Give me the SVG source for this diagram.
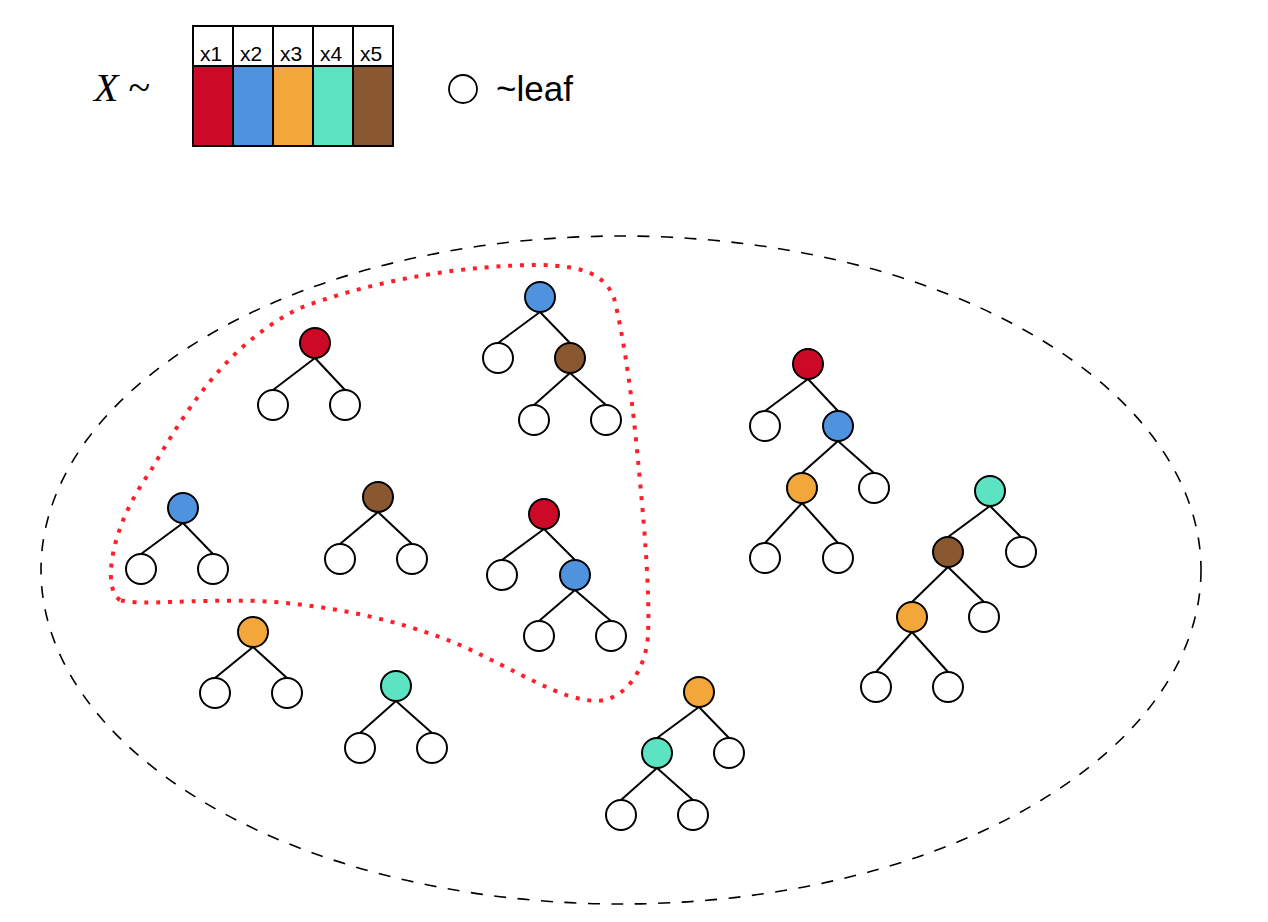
<svg xmlns="http://www.w3.org/2000/svg" width="1268" height="922" viewBox="0 0 1268 922">
<style>
.n{stroke:#000;stroke-width:2}
.leaf{fill:#fff}
.x1{fill:#CC0A27}.x2{fill:#4F92DE}.x3{fill:#F3A63A}.x4{fill:#5BE3C2}.x5{fill:#8A5830}
.e{stroke:#000;stroke-width:2;fill:none}
.hdr{font-family:"Liberation Sans",Arial,sans-serif;font-size:21px;text-anchor:middle;fill:#000}
</style>
<rect width="1268" height="922" fill="#fff"/>
<g id="legend">
  <rect x="193" y="66" width="40" height="80" class="x1"/>
  <rect x="233" y="66" width="40" height="80" class="x2"/>
  <rect x="273" y="66" width="40" height="80" class="x3"/>
  <rect x="313" y="66" width="40" height="80" class="x4"/>
  <rect x="353" y="66" width="40" height="80" class="x5"/>
  <g stroke="#000" stroke-width="2" fill="none">
    <rect x="193" y="26" width="200" height="120"/>
    <line x1="193" y1="66" x2="393" y2="66"/>
    <line x1="233" y1="26" x2="233" y2="146"/>
    <line x1="273" y1="26" x2="273" y2="146"/>
    <line x1="313" y1="26" x2="313" y2="146"/>
    <line x1="353" y1="26" x2="353" y2="146"/>
  </g>
  <text class="hdr" x="211" y="61">x1</text>
  <text class="hdr" x="251" y="61">x2</text>
  <text class="hdr" x="291" y="61">x3</text>
  <text class="hdr" x="331" y="61">x4</text>
  <text class="hdr" x="371" y="61">x5</text>
  <text x="94" y="101" font-family="Liberation Serif,serif" font-size="40"><tspan font-style="italic">X</tspan> ~</text>
  <circle cx="463" cy="89" r="14" fill="#fff" stroke="#000" stroke-width="1.8"/>
  <text x="496" y="101" font-family="Liberation Sans,Arial,sans-serif" font-size="35">~leaf</text>
</g>
<ellipse id="outer" cx="621" cy="570" rx="580" ry="334" fill="none" stroke="#000" stroke-width="1.6" stroke-dasharray="12 11.5"/>
<path id="subset" d="M 120,600 C 112,595 109,580 112,560 C 116,530 132,497 150,472 C 185,412 225,345 300,308 C 380,278 470,265 540,265 C 585,266 605,275 614,298 C 622,330 630,380 636,440 C 644,520 650,590 648,635 C 646,670 625,700 597,701 C 560,700 520,672 460,645 C 400,620 330,605 260,601 C 190,599 140,606 120,600 Z" fill="none" stroke="#FF1F2A" stroke-width="4" stroke-dasharray="4 7.8"/>
<g id="connectors" class="e">
  <line x1="315" y1="358" x2="273" y2="390"/><line x1="315" y1="358" x2="345" y2="390"/>
  <line x1="540" y1="312" x2="498" y2="343"/><line x1="540" y1="312" x2="570" y2="343"/>
  <line x1="570" y1="373" x2="534" y2="405"/><line x1="570" y1="373" x2="606" y2="405"/>
  <line x1="183" y1="523" x2="141" y2="554"/><line x1="183" y1="523" x2="213" y2="554"/>
  <line x1="378" y1="512" x2="340" y2="544"/><line x1="378" y1="512" x2="412" y2="544"/>
  <line x1="544" y1="529" x2="502" y2="560"/><line x1="544" y1="529" x2="575" y2="560"/>
  <line x1="575" y1="590" x2="539" y2="621"/><line x1="575" y1="590" x2="611" y2="621"/>
  <line x1="253" y1="647" x2="215" y2="678"/><line x1="253" y1="647" x2="287" y2="678"/>
  <line x1="396" y1="701" x2="360" y2="733"/><line x1="396" y1="701" x2="432" y2="733"/>
  <line x1="699" y1="707" x2="657" y2="738"/><line x1="699" y1="707" x2="729" y2="738"/>
  <line x1="657" y1="768" x2="621" y2="800"/><line x1="657" y1="768" x2="693" y2="800"/>
  <line x1="808" y1="379" x2="765" y2="411"/><line x1="808" y1="379" x2="838" y2="411"/>
  <line x1="838" y1="441" x2="802" y2="473"/><line x1="838" y1="441" x2="874" y2="473"/>
  <line x1="802" y1="503" x2="765" y2="543"/><line x1="802" y1="503" x2="838" y2="543"/>
  <line x1="990" y1="506" x2="948" y2="537"/><line x1="990" y1="506" x2="1021" y2="537"/>
  <line x1="948" y1="567" x2="912" y2="602"/><line x1="948" y1="567" x2="984" y2="602"/>
  <line x1="912" y1="632" x2="876" y2="672"/><line x1="912" y1="632" x2="948" y2="672"/>
</g>
<g id="a0"><circle class="n x1" cx="315" cy="343" r="15"/></g>
<g id="a1"><circle class="n leaf" cx="273" cy="405" r="15"/></g>
<g id="a2"><circle class="n leaf" cx="345" cy="405" r="15"/></g>
<g id="b0"><circle class="n x2" cx="540" cy="297" r="15"/></g>
<g id="b1"><circle class="n leaf" cx="498" cy="358" r="15"/></g>
<g id="b2"><circle class="n x5" cx="570" cy="358" r="15"/></g>
<g id="b3"><circle class="n leaf" cx="534" cy="420" r="15"/></g>
<g id="b4"><circle class="n leaf" cx="606" cy="420" r="15"/></g>
<g id="c0"><circle class="n x2" cx="183" cy="508" r="15"/></g>
<g id="c1"><circle class="n leaf" cx="141" cy="569" r="15"/></g>
<g id="c2"><circle class="n leaf" cx="213" cy="569" r="15"/></g>
<g id="d0"><circle class="n x5" cx="378" cy="497" r="15"/></g>
<g id="d1"><circle class="n leaf" cx="340" cy="559" r="15"/></g>
<g id="d2"><circle class="n leaf" cx="412" cy="559" r="15"/></g>
<g id="e0"><circle class="n x1" cx="544" cy="514" r="15"/></g>
<g id="e1"><circle class="n leaf" cx="502" cy="575" r="15"/></g>
<g id="e2"><circle class="n x2" cx="575" cy="575" r="15"/></g>
<g id="e3"><circle class="n leaf" cx="539" cy="636" r="15"/></g>
<g id="e4"><circle class="n leaf" cx="611" cy="636" r="15"/></g>
<g id="f0"><circle class="n x3" cx="253" cy="632" r="15"/></g>
<g id="f1"><circle class="n leaf" cx="215" cy="693" r="15"/></g>
<g id="f2"><circle class="n leaf" cx="287" cy="693" r="15"/></g>
<g id="g0"><circle class="n x4" cx="396" cy="686" r="15"/></g>
<g id="g1"><circle class="n leaf" cx="360" cy="748" r="15"/></g>
<g id="g2"><circle class="n leaf" cx="432" cy="748" r="15"/></g>
<g id="h0"><circle class="n x3" cx="699" cy="692" r="15"/></g>
<g id="h1"><circle class="n x4" cx="657" cy="753" r="15"/></g>
<g id="h2"><circle class="n leaf" cx="729" cy="753" r="15"/></g>
<g id="h3"><circle class="n leaf" cx="621" cy="815" r="15"/></g>
<g id="h4"><circle class="n leaf" cx="693" cy="815" r="15"/></g>
<g id="i0"><circle class="n x1" cx="808" cy="364" r="15"/></g>
<g id="i1"><circle class="n leaf" cx="765" cy="426" r="15"/></g>
<g id="i2"><circle class="n x2" cx="838" cy="426" r="15"/></g>
<g id="i3"><circle class="n x3" cx="802" cy="488" r="15"/></g>
<g id="i4"><circle class="n leaf" cx="874" cy="488" r="15"/></g>
<g id="i5"><circle class="n leaf" cx="765" cy="558" r="15"/></g>
<g id="i6"><circle class="n leaf" cx="838" cy="558" r="15"/></g>
<g id="j0"><circle class="n x4" cx="990" cy="491" r="15"/></g>
<g id="j1"><circle class="n x5" cx="948" cy="552" r="15"/></g>
<g id="j2"><circle class="n leaf" cx="1021" cy="552" r="15"/></g>
<g id="j3"><circle class="n x3" cx="912" cy="617" r="15"/></g>
<g id="j4"><circle class="n leaf" cx="984" cy="617" r="15"/></g>
<g id="j5"><circle class="n leaf" cx="876" cy="687" r="15"/></g>
<g id="j6"><circle class="n leaf" cx="948" cy="687" r="15"/></g>
</svg>
